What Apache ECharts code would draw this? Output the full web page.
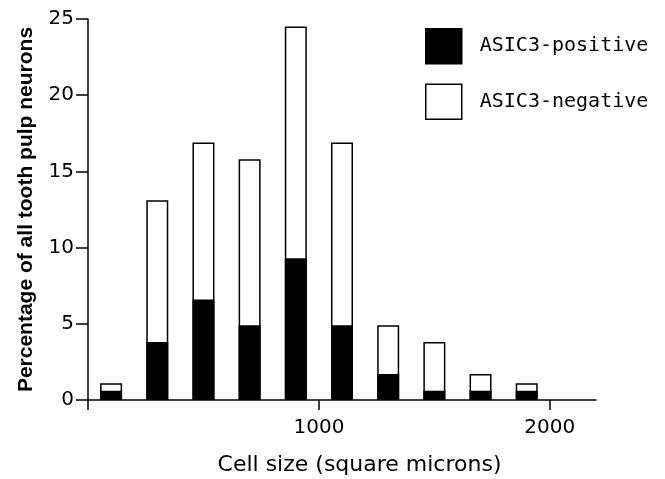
<!DOCTYPE html>
<html>
<head>
<meta charset="utf-8">
<script src="https://cdn.jsdelivr.net/npm/echarts@6/dist/echarts.min.js"></script>
<style>html,body{margin:0;padding:0;background:#fff}#c{width:665px;height:479px}</style>
</head>
<body>
<div id="c"></div>
<script>
// Bin centres (square microns)
const binCentres = [100, 300, 500, 700, 900, 1100, 1300, 1500, 1700, 1900];
// Percent of all tooth pulp neurons: ASIC3-positive part and whole bar (positive + negative)
const positiveValues = [0.6, 3.8, 6.6, 4.9, 9.3, 4.9, 1.7, 0.6, 0.6, 0.6];
const totalValues = [1.1, 13.1, 16.9, 15.8, 24.5, 16.9, 4.9, 3.8, 1.7, 1.1];
const xTicks = [0, 1000, 2000];
const xTickLabels = [1000, 2000];
const yTicks = [0, 5, 10, 15, 20, 25];
const seriesNames = ['ASIC3-positive', 'ASIC3-negative'];

const chart = echarts.init(document.getElementById('c'), null, {renderer: 'canvas'});
const tickFont = 'DejaVu Sans';
chart.setOption({
  animation: false,
  backgroundColor: '#fff',
  grid: {left: 88, right: 69, top: 19, bottom: 79, containLabel: false, outerBoundsMode: 'none'},
  legend: {
    orient: 'vertical', left: 425, top: 28, padding: 0,
    itemWidth: 36, itemHeight: 35, itemGap: 19,
    icon: 'rect',
    textStyle: {fontFamily: 'DejaVu Sans Mono', fontSize: 20, color: '#000', padding: [0, 0, 0, 13]},
    data: [
      {name: seriesNames[0], itemStyle: {color: '#000', borderColor: '#000', borderWidth: 1.5}},
      {name: seriesNames[1], itemStyle: {color: '#fff', borderColor: '#000', borderWidth: 1.5}}
    ]
  },
  xAxis: {
    type: 'value', min: 0, max: 2200, interval: 1000,
    name: 'Cell size (square microns)', nameLocation: 'middle', nameGap: 54,
    nameTextStyle: {fontFamily: 'DejaVu Sans', fontSize: 22, color: '#000', padding: [0, 0, 0, 35]},
    axisLine: {show: true, lineStyle: {color: '#000', width: 1.5}},
    axisTick: {show: true, inside: false, length: 10, customValues: xTicks, lineStyle: {color: '#000', width: 1.5}},
    axisLabel: {
      color: '#000', fontFamily: tickFont, fontSize: 20, margin: 18,
      customValues: xTickLabels,
      formatter: v => String(v)
    },
    splitLine: {show: false}
  },
  yAxis: {
    type: 'value', min: 0, max: 25, interval: 5,
    name: 'Percentage of all tooth pulp neurons', nameLocation: 'middle', nameGap: 51,
    nameTextStyle: {fontFamily: 'Liberation Sans', fontWeight: 'bold', fontSize: 21, color: '#000'},
    axisLine: {show: true, lineStyle: {color: '#000', width: 1.5}},
    axisTick: {show: true, length: 12, customValues: yTicks, lineStyle: {color: '#000', width: 1.5}},
    axisLabel: {
      color: '#000', fontFamily: tickFont, fontSize: 20, margin: 14,
      customValues: yTicks,
      formatter: v => String(v)
    },
    splitLine: {show: false}
  },
  series: [
    {
      name: seriesNames[1], type: 'bar', barWidth: 22, barGap: '-100%', z: 2,
      itemStyle: {color: '#fff', borderColor: '#000', borderWidth: 1.5},
      data: binCentres.map((x, i) => [x, totalValues[i]])
    },
    {
      name: seriesNames[0], type: 'bar', barWidth: 22, barGap: '-100%', z: 3,
      itemStyle: {color: '#000', borderColor: '#000', borderWidth: 1.5},
      data: binCentres.map((x, i) => [x, positiveValues[i]])
    }
  ]
});
</script>
</body>
</html>
